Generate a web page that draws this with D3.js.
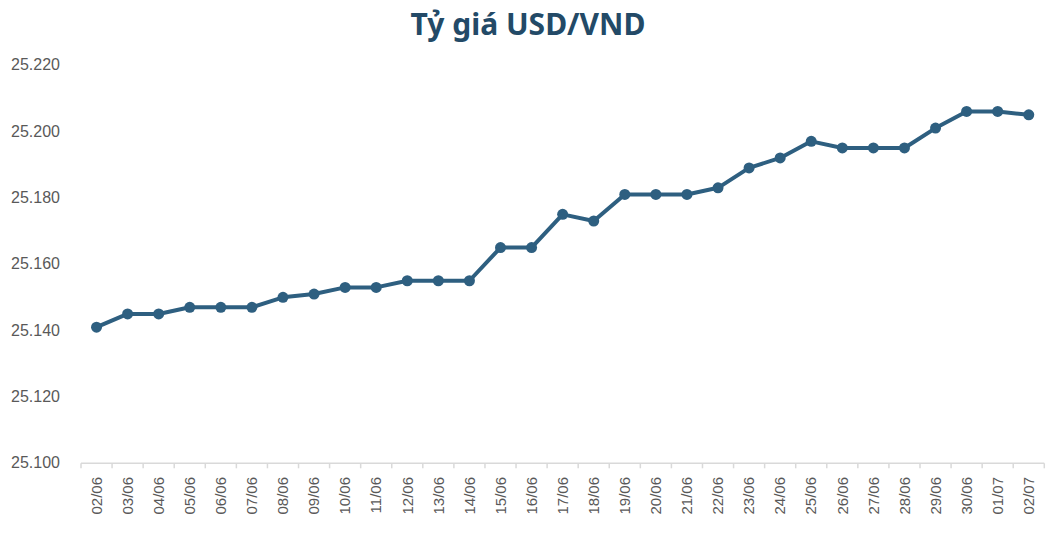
<!DOCTYPE html>
<html>
<head>
<meta charset="utf-8">
<script src="https://cdn.jsdelivr.net/npm/d3@7"></script>
<style>
  body { margin: 0; background: #fff; }
  svg { display: block; }
</style>
</head>
<body>
<svg id="chart"></svg>
<script>
// du lieu ty gia
const dates = ["02/06", "03/06", "04/06", "05/06", "06/06", "07/06", "08/06", "09/06",
    "10/06", "11/06", "12/06", "13/06", "14/06", "15/06", "16/06", "17/06", "18/06",
    "19/06", "20/06", "21/06", "22/06", "23/06", "24/06", "25/06", "26/06", "27/06",
    "28/06", "29/06", "30/06", "01/07", "02/07"];
const rates = [25141, 25145, 25145, 25147, 25147, 25147, 25150, 25151,
    25153, 25153, 25155, 25155, 25155, 25165, 25165, 25175, 25173,
    25181, 25181, 25181, 25183, 25189, 25192, 25197, 25195, 25195,
    25195, 25201, 25206, 25206, 25205];
const yTicks = [25100, 25120, 25140, 25160, 25180, 25200, 25220];
const title = "Tỷ giá USD/VND";

const width = 1056, height = 538;
const lineColor = "#2e5f80";

const svg = d3.select("#chart")
    .attr("width", width)
    .attr("height", height);

const x = d3.scaleBand()
    .domain(dates)
    .range([81, 1044.3])
    .padding(0);

const y = d3.scaleLinear()
    .domain([25100, 25220])
    .range([463.3, 65]);

const viFormat = d3.formatLocale({ decimal: ",", thousands: ".", grouping: [3], currency: ["", ""] }).format(",");

/* tieu de */
svg.append("text")
    .attr("x", width / 2)
    .attr("y", 35)
    .attr("text-anchor", "middle")
    .attr("font-family", "'Noto Sans', sans-serif")
    .attr("font-weight", "bold")
    .attr("font-size", "30px")
    .attr("fill", "#234a67")
    .text(title);

/* truc Y */
svg.append("g")
    .selectAll("text")
    .data(yTicks)
    .enter()
    .append("text")
    .attr("x", 60)
    .attr("y", d => y(d))
    .attr("dy", "0.32em")
    .attr("text-anchor", "end")
    .attr("font-family", "'Liberation Sans', Arial, sans-serif")
    .attr("font-size", "16px")
    .attr("fill", "#595959")
    .text(d => viFormat(d));

/* truc X */
const xAxis = svg.append("g");
const [x0, x1] = x.range();

xAxis.append("line")
    .attr("x1", x0).attr("x2", x1)
    .attr("y1", y(25100)).attr("y2", y(25100))
    .attr("stroke", "#d9d9d9")
    .attr("stroke-width", 1.5);

const boundaries = dates.map(d => x(d)).concat([x1]);
xAxis.selectAll("line.tick")
    .data(boundaries)
    .enter()
    .append("line")
    .attr("class", "tick")
    .attr("x1", d => d).attr("x2", d => d)
    .attr("y1", y(25100)).attr("y2", y(25100) + 5)
    .attr("stroke", "#d9d9d9")
    .attr("stroke-width", 1.5);

xAxis.selectAll("text")
    .data(dates)
    .enter()
    .append("text")
    .attr("transform", d => `translate(${x(d) + x.bandwidth() / 2},477) rotate(-90)`)
    .attr("dy", "0.35em")
    .attr("text-anchor", "end")
    .attr("font-family", "'Liberation Sans', Arial, sans-serif")
    .attr("font-size", "15px")
    .attr("fill", "#595959")
    .text(d => d);

/* duong va diem */
const line = d3.line()
    .x((d, i) => x(dates[i]) + x.bandwidth() / 2)
    .y(d => y(d));

svg.append("path")
    .datum(rates)
    .attr("d", line)
    .attr("fill", "none")
    .attr("stroke", lineColor)
    .attr("stroke-width", 4)
    .attr("stroke-linejoin", "round");

svg.selectAll("circle")
    .data(rates)
    .enter()
    .append("circle")
    .attr("cx", (d, i) => x(dates[i]) + x.bandwidth() / 2)
    .attr("cy", d => y(d))
    .attr("r", 5.5)
    .attr("fill", lineColor);
</script>
</body>
</html>
